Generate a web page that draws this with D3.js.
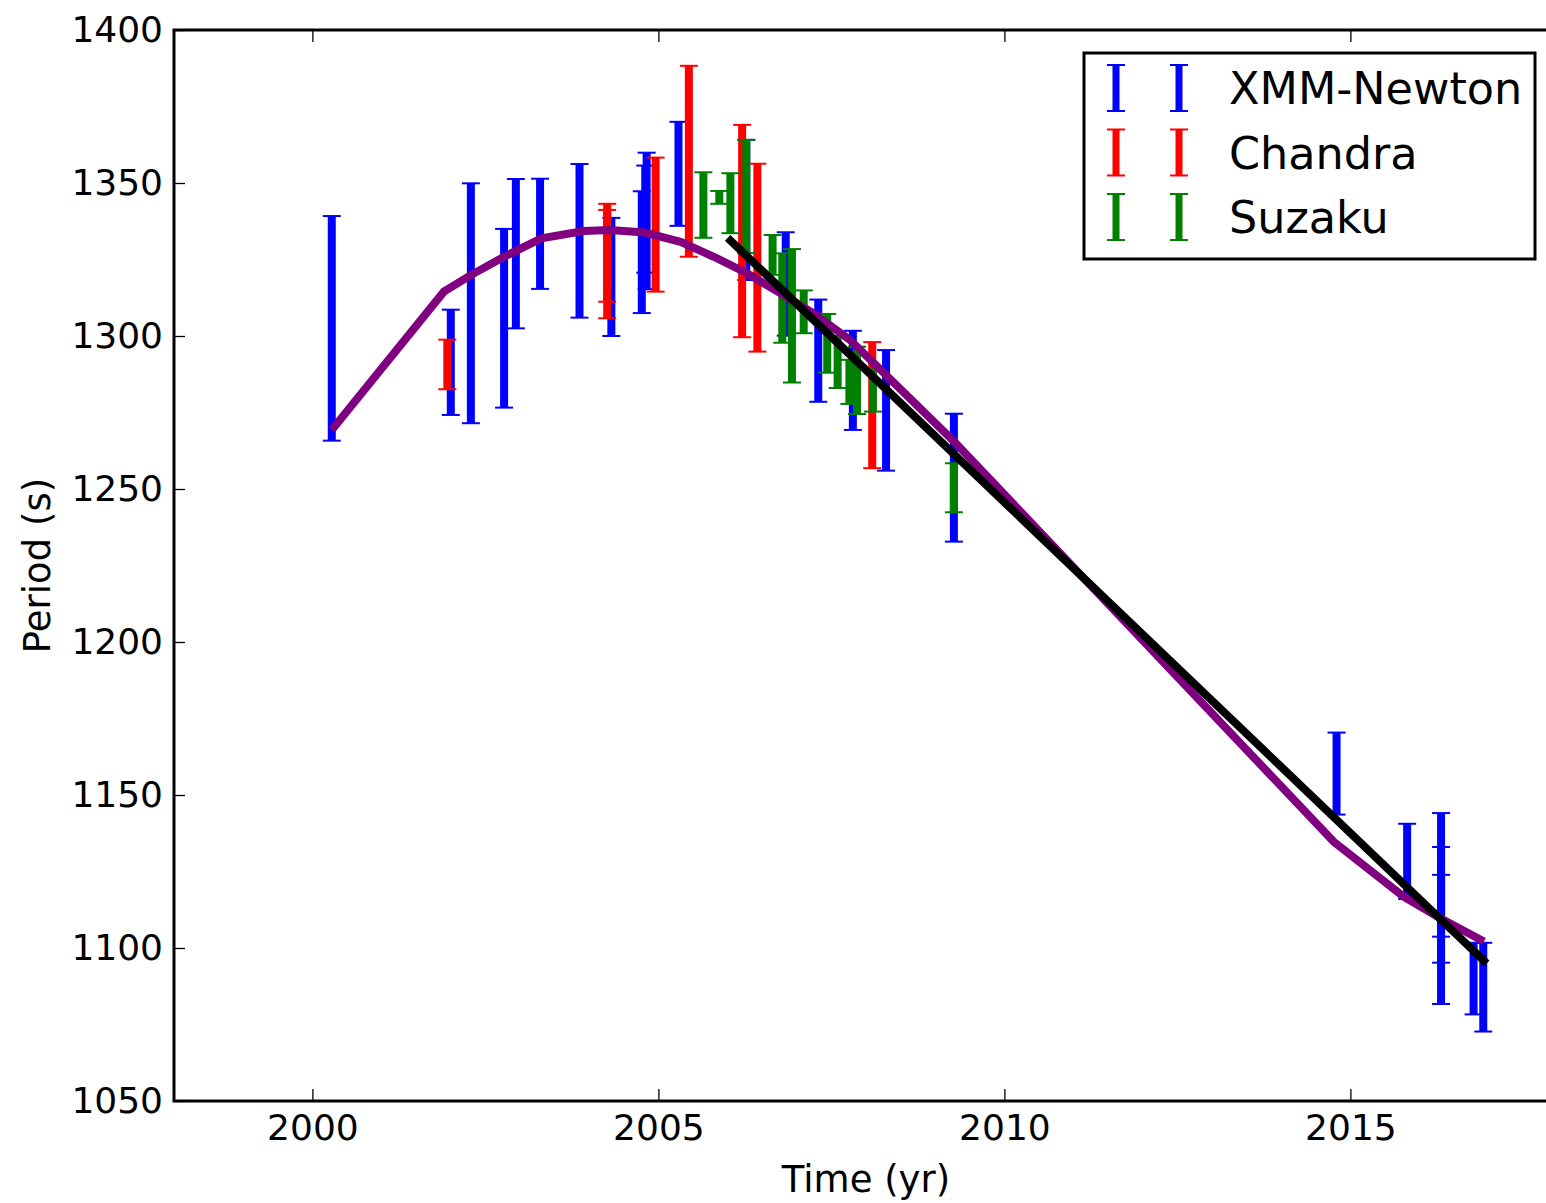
<!DOCTYPE html>
<html>
<head>
<meta charset="utf-8">
<script src="https://cdn.jsdelivr.net/npm/d3@7"></script>
<style>
  body { margin: 0; background: #fff; overflow: hidden; }
  text { font-family: "DejaVu Sans", sans-serif; fill: #000; }
</style>
</head>
<body>
<div id="chart"></div>
<script>
// Observations: time (yr), period (s), 1-sigma error (s)
const xmmTime = [2000.28, 2002.00, 2002.29, 2002.77, 2002.94, 2003.29, 2003.86, 2004.32, 2004.76, 2004.83, 2004.81, 2005.29, 2006.27,
                 2006.84, 2007.31, 2007.81, 2008.29, 2009.27, 2014.80, 2015.82, 2016.31, 2016.31, 2016.31, 2016.78, 2016.92];
const xmmPeriod = [1302.5, 1291.4, 1310.7, 1305.8, 1326.9, 1333.4, 1331.1, 1319.3, 1327.4, 1337.6, 1338.2, 1353.0, 1341.2,
                   1317.0, 1295.2, 1285.5, 1275.7, 1253.7, 1157.0, 1128.3, 1112.9, 1114.1, 1113.8, 1090.0, 1087.2];
const xmmErr = [36.7, 17.2, 39.2, 29.2, 24.4, 18.0, 25.1, 19.3, 19.9, 22.3, 17.5, 17.0, 22.9,
                16.9, 16.7, 16.2, 19.7, 20.9, 13.4, 12.3, 31.2, 18.9, 10.1, 11.7, 14.5];

const chandraTime = [2001.95, 2004.26, 2004.26, 2004.96, 2005.44, 2006.21, 2006.43, 2008.09];
const chandraPeriod = [1290.7, 1327.2, 1323.5, 1336.4, 1357.1, 1334.3, 1325.6, 1277.4];
const chandraErr = [8.1, 16.0, 17.7, 21.9, 31.2, 34.7, 30.7, 20.6];

const suzakuTime = [2005.65, 2005.88, 2006.04, 2006.27, 2006.65, 2006.79, 2006.93, 2007.10, 2007.44, 2007.59, 2007.76, 2007.87, 2008.10, 2009.27];
const suzakuPeriod = [1342.8, 1345.3, 1343.4, 1345.6, 1326.5, 1312.4, 1306.6, 1307.9, 1297.6, 1291.5, 1285.0, 1285.5, 1282.2, 1250.4];
const suzakuErr = [10.7, 2.1, 9.8, 18.5, 6.5, 14.6, 21.8, 7.0, 9.6, 8.5, 7.2, 11.0, 6.9, 8.0];

// Model curve (purple) and linear fit (black)
const modelTime = [2000.28, 2001.90, 2002.29, 2002.77, 2003.31, 2003.92, 2004.30, 2004.80, 2005.32, 2005.80,
                   2006.28, 2006.76, 2007.24, 2007.77, 2008.29, 2009.27, 2014.76, 2015.77, 2016.30, 2016.93];
const modelPeriod = [1269.3, 1314.5, 1319.9, 1325.9, 1331.9, 1334.3, 1334.6, 1333.8, 1330.8, 1325.9,
                     1320.5, 1314.0, 1307.4, 1298.7, 1287.2, 1265.6, 1134.7, 1116.8, 1109.7, 1102.1];
const fitTime = [2006.00, 2016.97];
const fitPeriod = [1332.1, 1095.0];

const xTicks = [2000, 2005, 2010, 2015];
const yTicks = [1050, 1100, 1150, 1200, 1250, 1300, 1350, 1400];

const seriesNames = ["XMM-Newton", "Chandra", "Suzaku"];
const seriesColors = ["#0000ff", "#ff0000", "#008000"];

// Set up SVG canvas
const width = 1546, height = 1203;
const margin = { top: 30, left: 174 };
const plotW = 1384, plotH = 1071;

const svg = d3.select("#chart").append("svg")
    .attr("width", width)
    .attr("height", height);

const g = svg.append("g")
    .attr("transform", `translate(${margin.left},${margin.top})`);

const x = d3.scaleLinear().domain([1998, 2018]).range([0, plotW]);
const y = d3.scaleLinear().domain([1050, 1400]).range([plotH, 0]);

// Error bars
const series = [
  { t: xmmTime, p: xmmPeriod, e: xmmErr },
  { t: chandraTime, p: chandraPeriod, e: chandraErr },
  { t: suzakuTime, p: suzakuPeriod, e: suzakuErr }
];

series.forEach((s, k) => {
  const pts = s.t.map((t, i) => ({ t: t, p: s.p[i], e: s.e[i] }));
  const grp = g.append("g").attr("stroke", seriesColors[k]);

  grp.selectAll(".bar")
      .data(pts)
    .enter().append("line")
      .attr("x1", d => x(d.t))
      .attr("x2", d => x(d.t))
      .attr("y1", d => y(d.p + d.e))
      .attr("y2", d => y(d.p - d.e))
      .attr("stroke-width", 8);

  grp.selectAll(".cap")
      .data(pts.flatMap(d => [d.p + d.e, d.p - d.e].map(v => ({ t: d.t, v: v }))))
    .enter().append("line")
      .attr("x1", d => x(d.t) - 9)
      .attr("x2", d => x(d.t) + 9)
      .attr("y1", d => y(d.v))
      .attr("y2", d => y(d.v))
      .attr("stroke-width", 2);
});

// Model curve and linear fit
const line = d3.line().x(d => x(d[0])).y(d => y(d[1]));

g.append("path")
    .datum(modelTime.map((t, i) => [t, modelPeriod[i]]))
    .attr("d", line)
    .attr("fill", "none")
    .attr("stroke", "#800080")
    .attr("stroke-width", 8);

g.append("path")
    .datum(fitTime.map((t, i) => [t, fitPeriod[i]]))
    .attr("d", line)
    .attr("fill", "none")
    .attr("stroke", "#000")
    .attr("stroke-width", 8);

// Axes (ticks pointing inward on all four sides)
const tickFont = "36px";

const xAxis = g.append("g")
    .attr("transform", `translate(0,${plotH})`)
    .call(d3.axisBottom(x).tickValues(xTicks).tickFormat(d3.format("d")).tickSizeInner(-12).tickSizeOuter(0).tickPadding(13));
const xTop = g.append("g")
    .call(d3.axisTop(x).tickValues(xTicks).tickFormat("").tickSizeInner(-12).tickSizeOuter(0));
const yAxis = g.append("g")
    .call(d3.axisLeft(y).tickValues(yTicks).tickFormat(d3.format("d")).tickSizeInner(-11).tickSizeOuter(0).tickPadding(11));
const yRight = g.append("g")
    .attr("transform", `translate(${plotW},0)`)
    .call(d3.axisRight(y).tickValues(yTicks).tickFormat("").tickSizeInner(-11).tickSizeOuter(0));

[xAxis, xTop, yAxis, yRight].forEach(a => {
  a.select(".domain").remove();
  a.selectAll(".tick line").attr("stroke", "#000").attr("stroke-width", 1.3);
  a.selectAll(".tick text")
      .style("font-family", "DejaVu Sans")
      .style("font-size", tickFont);
});

// Frame
g.append("rect")
    .attr("width", plotW)
    .attr("height", plotH)
    .attr("fill", "none")
    .attr("stroke", "#000")
    .attr("stroke-width", 3);

// Axis labels
svg.append("text")
    .attr("x", margin.left + plotW / 2)
    .attr("y", 1192)
    .attr("text-anchor", "middle")
    .style("font-size", "37px")
    .text("Time (yr)");

svg.append("text")
    .attr("transform", `translate(50,${margin.top + plotH / 2}) rotate(-90)`)
    .attr("text-anchor", "middle")
    .style("font-size", "37px")
    .text("Period (s)");

// Legend
const legend = svg.append("g").attr("transform", "translate(1084,53)");

legend.append("rect")
    .attr("width", 451)
    .attr("height", 206)
    .attr("fill", "#fff")
    .attr("stroke", "#000")
    .attr("stroke-width", 3);

const item = legend.selectAll(".legend")
    .data(seriesNames)
  .enter().append("g")
    .attr("class", "legend")
    .attr("transform", (d, i) => `translate(0,${35 + i * 64.5})`);

[32, 95].forEach(cx => {
  item.append("line")
      .attr("x1", cx).attr("x2", cx)
      .attr("y1", -23).attr("y2", 23)
      .attr("stroke", (d, i) => seriesColors[i])
      .attr("stroke-width", 7);
  [-23, 23].forEach(cy => {
    item.append("line")
        .attr("x1", cx - 9).attr("x2", cx + 9)
        .attr("y1", cy).attr("y2", cy)
        .attr("stroke", (d, i) => seriesColors[i])
        .attr("stroke-width", 2);
  });
});

item.append("text")
    .attr("x", 145)
    .attr("y", 16)
    .style("font-size", "44.5px")
    .text(d => d);
</script>
</body>
</html>
